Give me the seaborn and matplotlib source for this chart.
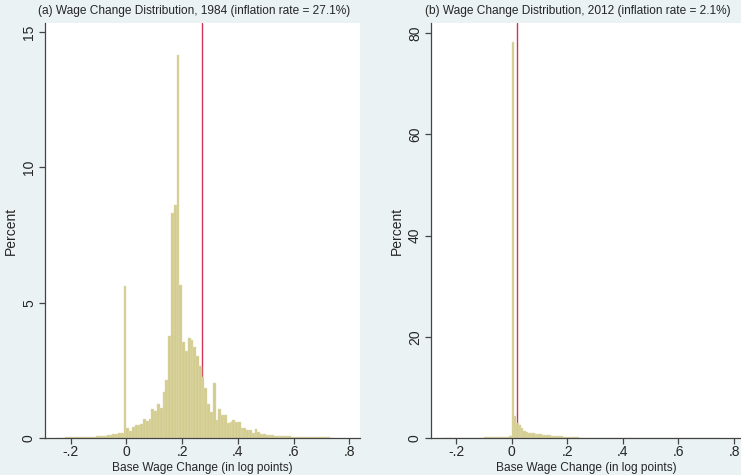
import numpy as np
import pandas as pd
import matplotlib
matplotlib.use("Agg")
import matplotlib.pyplot as plt
import seaborn as sns

# 1984 histogram: percent per bin, bins of 0.01 from -0.25 to 0.75
pct_1984 = [
    0.01, 0.01, 0.01, 0.02, 0.02, 0.02, 0.03, 0.03, 0.03, 0.04,
    0.04, 0.04, 0.05, 0.05, 0.06, 0.06, 0.07, 0.08, 0.10, 0.12,
    0.15, 0.16, 0.17, 0.18, 5.60,
    0.38, 0.27, 0.41, 0.47, 0.48, 0.53, 0.69, 0.63, 0.69, 1.08,
    0.98, 1.24, 1.12, 1.70, 2.13, 3.76, 8.30, 8.60, 14.15, 5.64,
    3.55, 3.20, 3.69, 3.63, 3.35, 3.03, 2.65, 2.25, 1.86, 1.27,
    0.96, 2.03, 0.65, 1.06, 0.84, 0.84, 0.55, 0.58, 0.65, 0.58,
    0.58, 0.38, 0.38, 0.31, 0.30, 0.20, 0.34, 0.22, 0.15, 0.14,
    0.12, 0.11, 0.10, 0.08, 0.07, 0.07, 0.06, 0.06, 0.06, 0.05,
    0.05, 0.05, 0.04, 0.04, 0.04, 0.03, 0.03, 0.03, 0.03, 0.05,
    0.02, 0.02, 0.02, 0.01, 0.01,
]

# 2012 histogram: percent per bin, 120 bins from -0.25 to 0.75
pct_2012 = [
    0.03, 0.03, 0.03, 0.04, 0.04, 0.04, 0.05, 0.05, 0.05, 0.05,
    0.06, 0.06, 0.06, 0.07, 0.07, 0.08, 0.08, 0.09, 0.10, 0.10,
    0.11, 0.12, 0.13, 0.14, 0.16, 0.18, 0.20, 0.23, 0.28, 0.33,
    78.2, 4.40, 2.95, 2.60, 1.98, 1.45, 1.20, 1.05, 0.99, 0.90,
    0.86, 0.78, 0.72, 0.66, 0.60, 0.55, 0.50, 0.46, 0.42, 0.38,
    0.34, 0.30, 0.28, 0.25, 0.14,
    0.12, 0.11, 0.10, 0.10, 0.09, 0.09, 0.08, 0.08, 0.07, 0.07,
    0.07, 0.06, 0.06, 0.06, 0.06, 0.05, 0.05, 0.05, 0.05, 0.05,
    0.04, 0.04, 0.04, 0.04, 0.04, 0.04, 0.04, 0.04, 0.04, 0.04,
    0.04, 0.04, 0.03, 0.03, 0.03, 0.03, 0.03, 0.03, 0.03, 0.03,
    0.03, 0.03, 0.02, 0.02, 0.02, 0.02, 0.02, 0.02, 0.02, 0.02,
    0.02, 0.02, 0.02, 0.02, 0.02, 0.01, 0.01, 0.01, 0.01, 0.01,
    0.01, 0.01, 0.01, 0.01, 0.01,
]

inflation = {"1984": 0.271, "2012": 0.021}
titles = {
    "1984": "(a) Wage Change Distribution, 1984 (inflation rate = 27.1%)",
    "2012": "(b) Wage Change Distribution, 2012 (inflation rate = 2.1%)",
}
x_ticks = [-0.2, 0, 0.2, 0.4, 0.6, 0.8]
x_labels = ["-.2", "0", ".2", ".4", ".6", ".8"]
y_ticks_1984 = [0, 5, 10, 15]
y_ticks_2012 = [0, 20, 40, 60, 80]

sns.set_style("ticks")
plt.rcParams['font.family'] = ['Liberation Sans', 'DejaVu Sans']

bg = '#EAF2F3'
bar_color = '#D2CC8F'
line_color = '#D2335A'
axis_color = '#444444'

W, H = 741, 475
fig = plt.figure(figsize=(W / 100, H / 100), dpi=100, facecolor=bg)
ax1 = fig.add_axes([45 / W, 37 / H, 315 / W, 415 / H])
ax2 = fig.add_axes([431 / W, 37 / H, 310 / W, 415 / H])

edges_1984 = list(np.round(np.linspace(-0.25, 0.75, 101), 4))
edges_2012 = list(np.linspace(-0.25, 0.75, 121))

panels = [
    (ax1, "1984", pct_1984, edges_1984, y_ticks_1984, (-0.292, 0.838), 15.33, 194),
    (ax2, "2012", pct_2012, edges_2012, y_ticks_2012, (-0.29, 0.825), 82.0, 578),
]

for ax, yr, pct, edges, yt, xlim, ytop, title_x in panels:
    e = np.array(edges)
    df = pd.DataFrame({"change": (e[:-1] + e[1:]) / 2, "pct": pct})
    ax.set_facecolor('white')
    ax.axvline(inflation[yr], color=line_color, lw=1.0, zorder=1)
    sns.histplot(data=df, x="change", weights="pct", bins=edges, ax=ax,
                 color=bar_color, alpha=1, edgecolor='#E2DDB4', linewidth=0.3,
                 zorder=2)
    ax.set_xlim(*xlim)
    ax.set_ylim(0, ytop)
    ax.set_xticks(x_ticks)
    ax.set_xticklabels(x_labels)
    ax.set_yticks(yt)
    ax.set_yticklabels([str(v) for v in yt], rotation=90, va='center')
    ax.tick_params(direction='out', length=4, width=0.9, color=axis_color,
                   labelsize=10, pad=2.5)
    ax.tick_params(axis='x', pad=1.2)
    for side in ['top', 'right']:
        ax.spines[side].set_visible(False)
    for side in ['left', 'bottom']:
        ax.spines[side].set_color(axis_color)
        ax.spines[side].set_linewidth(0.9)
    ax.set_ylabel("Percent", fontsize=10)
    ax.yaxis.set_label_coords(-0.086, 0.5)
    ax.set_xlabel("Base Wage Change (in log points)", fontsize=8.6)
    ax.xaxis.set_label_coords(0.5, -0.057)
    fig.text(title_x / W, 1 - 11 / H, titles[yr], ha='center', va='center',
             fontsize=8.6)

fig.savefig("out.png", dpi=100, facecolor=bg)
